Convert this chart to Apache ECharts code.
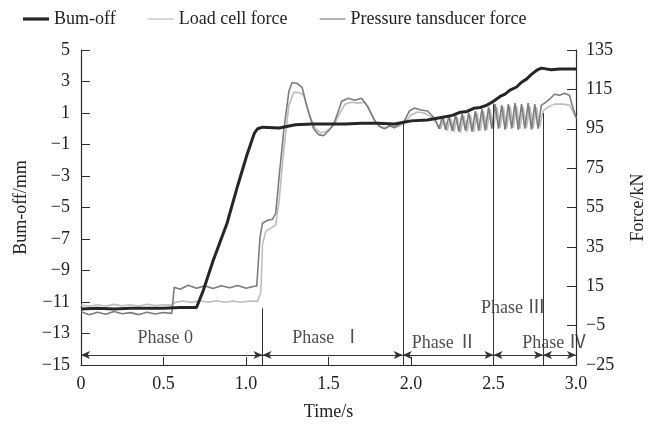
<!DOCTYPE html>
<html>
<head>
<meta charset="utf-8">
<style>
  html, body { margin: 0; padding: 0; background: #fff; }
  #chart { width: 650px; height: 429px; }
</style>
<script src="https://cdn.jsdelivr.net/npm/echarts@6/dist/echarts.min.js"></script>
</head>
<body>
<div id="chart"></div>
<script>
// [time s, burn-off mm]
const burnOff = [
  [0, -11.45], [0.1, -11.4], [0.2, -11.45], [0.3, -11.4], [0.4, -11.4], [0.5, -11.4],
  [0.6, -11.35], [0.7, -11.35], [0.74, -10.3], [0.8, -8.4], [0.885, -6.0], [0.95, -3.6],
  [1.006, -1.65], [1.05, -0.3], [1.07, 0.0], [1.1, 0.1], [1.2, 0.05], [1.3, 0.25],
  [1.4, 0.3], [1.5, 0.3], [1.6, 0.3], [1.7, 0.35], [1.8, 0.35], [1.9, 0.3], [1.95, 0.4],
  [2.0, 0.5], [2.1, 0.55], [2.2, 0.75], [2.25, 0.85], [2.3, 1.05], [2.34, 1.1], [2.38, 1.3],
  [2.42, 1.35], [2.46, 1.5], [2.5, 1.75], [2.54, 2.05], [2.57, 2.2], [2.6, 2.45], [2.64, 2.65],
  [2.67, 2.95], [2.7, 3.15], [2.73, 3.45], [2.76, 3.7], [2.79, 3.85], [2.85, 3.75],
  [2.9, 3.8], [2.95, 3.8], [3.0, 3.8]
];

// [time s, force kN]
const loadCell = [
  [0, 5.5], [0.05, 4.8], [0.1, 5.6], [0.15, 5], [0.2, 5.8], [0.25, 5.1], [0.3, 5.6], [0.35, 5],
  [0.4, 5.9], [0.45, 5.2], [0.5, 5.6], [0.55, 5.4], [0.57, 6.8], [0.62, 7.5], [0.67, 6.8],
  [0.72, 7.6], [0.77, 6.9], [0.82, 7.6], [0.87, 6.9], [0.92, 7.5], [0.97, 6.9], [1.02, 7.5],
  [1.07, 7.3], [1.09, 12], [1.1, 36], [1.12, 43], [1.15, 44.5], [1.18, 46], [1.2, 58],
  [1.23, 85], [1.26, 107], [1.29, 113.5], [1.32, 113.5], [1.35, 112], [1.38, 103], [1.42, 95],
  [1.45, 93], [1.48, 93.5], [1.51, 95], [1.54, 98], [1.57, 103], [1.6, 107.5], [1.64, 108.5],
  [1.68, 108], [1.72, 108.5], [1.75, 104], [1.79, 98], [1.82, 96], [1.85, 95.5], [1.88, 96.5],
  [1.92, 96], [1.96, 98], [2.0, 102], [2.04, 103.5], [2.08, 103], [2.12, 101], [2.15, 98.5],
  [2.18, 95], [2.2, 100], [2.22, 94], [2.24, 100.5], [2.26, 93.5], [2.28, 101], [2.3, 93],
  [2.32, 101.5], [2.34, 93.5], [2.36, 102], [2.38, 93.5], [2.4, 103], [2.42, 94], [2.44, 104],
  [2.46, 94.5], [2.48, 105], [2.5, 95], [2.52, 106], [2.54, 95.5], [2.56, 106], [2.58, 95],
  [2.6, 106.5], [2.62, 95.5], [2.64, 106.5], [2.66, 95], [2.68, 106], [2.7, 95.5], [2.72, 106.5],
  [2.74, 95], [2.76, 106], [2.78, 96], [2.8, 104], [2.83, 106], [2.87, 107.5], [2.92, 107.5],
  [2.96, 107], [2.98, 104], [3.0, 100]
];

const pressure = [
  [0, 2], [0.05, 0.5], [0.1, 1.8], [0.15, 0.8], [0.2, 2.2], [0.25, 1], [0.3, 1.6], [0.35, 0.6],
  [0.4, 1.8], [0.45, 0.9], [0.5, 1.7], [0.55, 1.2], [0.565, 14.5], [0.6, 13.5], [0.65, 15.5],
  [0.7, 14], [0.75, 15.2], [0.8, 13.8], [0.85, 15.3], [0.9, 14.2], [0.95, 15.4], [1.0, 14],
  [1.05, 15], [1.065, 15], [1.085, 40], [1.1, 47], [1.13, 48.5], [1.16, 49], [1.18, 52],
  [1.2, 70], [1.23, 95], [1.26, 114], [1.28, 118.5], [1.31, 118], [1.34, 116], [1.37, 106],
  [1.41, 95], [1.44, 92], [1.47, 91.5], [1.5, 94], [1.53, 97], [1.56, 104], [1.58, 109],
  [1.62, 110.5], [1.66, 109.5], [1.7, 110.5], [1.74, 106], [1.78, 99], [1.81, 96], [1.84, 95],
  [1.87, 96.5], [1.9, 95.5], [1.93, 97.5], [1.96, 99], [1.99, 104], [2.02, 105.5], [2.06, 104.5],
  [2.1, 104], [2.13, 101.5], [2.15, 99], [2.17, 95], [2.19, 101], [2.21, 94.5], [2.23, 101.5],
  [2.25, 94], [2.27, 102], [2.29, 93.5], [2.31, 102.5], [2.33, 94], [2.35, 103], [2.37, 93.5],
  [2.39, 104], [2.41, 94], [2.43, 105], [2.45, 94], [2.47, 106], [2.49, 95], [2.51, 107.5],
  [2.53, 95], [2.55, 107], [2.57, 94.5], [2.59, 107.5], [2.61, 95], [2.63, 108], [2.65, 94.5],
  [2.67, 107.5], [2.69, 95], [2.71, 108], [2.73, 94.5], [2.75, 107.5], [2.77, 95], [2.79, 107],
  [2.81, 108], [2.84, 110], [2.87, 112.5], [2.9, 112], [2.93, 113], [2.96, 112], [2.98, 106],
  [3.0, 101]
];

// phase boundaries (s) and labels
const phaseBounds = [0, 1.1, 1.95, 2.5, 2.8, 3.0];
const phaseNames = ['Phase 0', 'Phase  Ⅰ', 'Phase Ⅱ', 'Phase Ⅲ', 'Phase Ⅳ'];
// top end (burn-off scale) of each interior boundary line
const boundTops = [-11.4, 0.4, 1.6, 1.0];
// label anchors [time, burn-off]
const phaseLabelAt = [[0.51, -13.3], [1.49, -13.3], [2.2, -13.6], [2.62, -11.4], [2.87, -13.6]];

const arrowY = -14.37;
const FONT = "'Liberation Serif', 'Noto Sans CJK SC', serif";
const AXIS_COLOR = '#2a2a2a';

const boundLines = boundTops.map((top, i) => [
  { coord: [phaseBounds[i + 1], top] },
  { coord: [phaseBounds[i + 1], -15] }
]);
const arrowLines = phaseNames.map((_, i) => [
  { coord: [phaseBounds[i], arrowY] },
  { coord: [phaseBounds[i + 1], arrowY] }
]);

const chart = echarts.init(document.getElementById('chart'));

chart.setOption({
  animation: false,
  backgroundColor: '#fff',
  textStyle: { fontFamily: FONT },
  legend: {
    top: 5,
    left: 18,
    itemWidth: 26,
    itemHeight: 10,
    itemGap: 32,
    textStyle: { fontFamily: FONT, fontSize: 18, color: '#222' },
    data: [
      { name: 'Bum-off', icon: 'path://M0,0H26V3.2H0Z' },
      { name: 'Load cell force', icon: 'path://M0,0H26V1.2H0Z' },
      { name: 'Pressure tansducer force', icon: 'path://M0,0H26V1.2H0Z' }
    ]
  },
  grid: { left: 81, right: 74, top: 50, bottom: 64, containLabel: false, outerBoundsMode: 'none' },
  xAxis: {
    type: 'value',
    min: 0,
    max: 3,
    interval: 0.5,
    name: 'Time/s',
    nameLocation: 'middle',
    nameGap: 38,
    nameTextStyle: { fontFamily: FONT, fontSize: 18, color: '#222' },
    axisLine: { onZero: false, lineStyle: { color: AXIS_COLOR, width: 1.2 } },
    axisTick: { inside: true, length: 8, lineStyle: { color: AXIS_COLOR } },
    axisLabel: {
      fontFamily: FONT, fontSize: 18, color: '#222', margin: 10,
      formatter: (v) => (v === 0 ? '0' : v.toFixed(1))
    },
    splitLine: { show: false }
  },
  yAxis: [
    {
      type: 'value',
      min: -15,
      max: 5,
      interval: 2,
      name: 'Bum-off/mm',
      nameLocation: 'middle',
      nameGap: 51,
      nameTextStyle: { fontFamily: FONT, fontSize: 18, color: '#222' },
      axisLine: { show: true, onZero: false, lineStyle: { color: AXIS_COLOR, width: 1.2 } },
      axisTick: { show: true, inside: true, length: 9, lineStyle: { color: AXIS_COLOR } },
      axisLabel: {
        fontFamily: FONT, fontSize: 18, color: '#222', margin: 11,
        formatter: (v) => String(v).replace('-', '\u2212')
      },
      splitLine: { show: false }
    },
    {
      type: 'value',
      min: -25,
      max: 135,
      interval: 20,
      name: 'Force/kN',
      nameLocation: 'middle',
      nameGap: 53,
      nameRotate: 90,
      nameTextStyle: { fontFamily: FONT, fontSize: 18, color: '#222' },
      axisLine: { show: true, onZero: false, lineStyle: { color: AXIS_COLOR, width: 1.2 } },
      axisTick: { show: true, inside: true, length: 9, lineStyle: { color: AXIS_COLOR } },
      axisLabel: {
        fontFamily: FONT, fontSize: 18, color: '#222', margin: 10,
        formatter: (v) => String(v).replace('-', '\u2212')
      },
      splitLine: { show: false }
    }
  ],
  series: [
    {
      name: 'Load cell force',
      type: 'line',
      yAxisIndex: 1,
      symbol: 'none',
      data: loadCell,
      lineStyle: { color: '#bdbdbd', width: 1.6 },
      itemStyle: { color: '#bdbdbd' },
      z: 2
    },
    {
      name: 'Pressure tansducer force',
      type: 'line',
      yAxisIndex: 1,
      symbol: 'none',
      data: pressure,
      lineStyle: { color: '#7c7c7c', width: 1.6 },
      itemStyle: { color: '#7c7c7c' },
      z: 3
    },
    {
      name: 'Bum-off',
      type: 'line',
      yAxisIndex: 0,
      symbol: 'none',
      data: burnOff,
      lineStyle: { color: '#262626', width: 3 },
      itemStyle: { color: '#262626' },
      z: 4,
      markLine: {
        silent: true,
        symbol: ['none', 'none'],
        label: { show: false },
        lineStyle: { color: '#333', width: 1, type: 'solid' },
        data: boundLines
      }
    },
    {
      name: 'arrows',
      type: 'line',
      yAxisIndex: 0,
      data: [],
      markLine: {
        silent: true,
        symbol: ['arrow', 'arrow'],
        symbolSize: [6, 9],
        label: { show: false },
        lineStyle: { color: '#333', width: 1, type: 'solid' },
        data: arrowLines
      }
    },
    {
      name: 'phases',
      type: 'scatter',
      yAxisIndex: 0,
      symbolSize: 0,
      silent: true,
      data: phaseNames.map((n, i) => ({ name: n, value: phaseLabelAt[i] })),
      label: {
        show: true,
        position: 'inside',
        formatter: (p) => p.name,
        fontFamily: FONT,
        fontSize: 18,
        color: '#222'
      }
    }
  ]
});
</script>
</body>
</html>
